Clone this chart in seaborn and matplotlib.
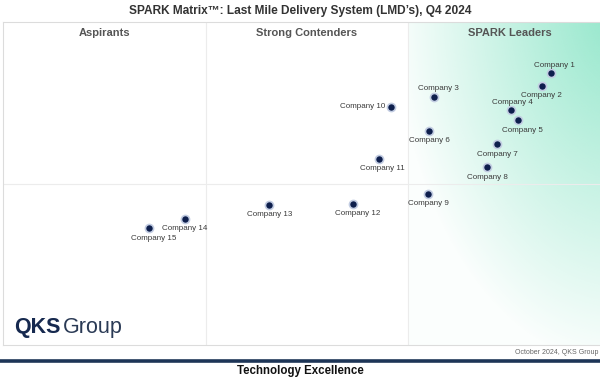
import numpy as np
import pandas as pd
import matplotlib
matplotlib.use("Agg")
import matplotlib.pyplot as plt
import seaborn as sns
from matplotlib.lines import Line2D
from matplotlib.colors import to_rgb

# scores (0-100 on both axes)
companies = [f"Company {i}" for i in range(1, 16)]
tech_excellence = [90.2, 88.6, 70.9, 83.6, 84.7, 70.1, 81.3, 79.6, 69.9,
                   63.8, 61.9, 57.5, 43.8, 29.9, 24.0]
customer_impact = [84.1, 80.3, 76.8, 72.8, 69.6, 66.3, 62.1, 55.0, 46.7,
                   73.8, 57.5, 43.6, 43.4, 39.1, 36.1]
quadrants = ["Aspirants", "Strong Contenders", "SPARK Leaders"]

df = pd.DataFrame({"company": companies, "x": tech_excellence, "y": customer_impact})

sns.set_style("white")
plt.rcParams["font.family"] = ["Liberation Sans", "DejaVu Sans"]

fig = plt.figure(figsize=(6, 3.8), dpi=100)
# plot area runs past the right edge of the picture (cropped matrix)
ax = fig.add_axes([3 / 600, 1 - 345 / 380, 608 / 600, 323 / 380])
ax.set_xlim(0, 100)
ax.set_ylim(0, 100)

# green gradient in the leaders quadrant, strongest at the top right
gx = np.linspace(100 / 3 * 2, 100, 200)
gy = np.linspace(0, 100, 200)
X, Y = np.meshgrid(gx, gy)
dx = (100 - X) * 6.08 + 10
dy = (100 - Y) * 3.23 + 22
d = np.sqrt((dx / 0.62) ** 2 + dy ** 2)
alpha = np.clip(0.99 - 0.0026 * d, 0.03, 0.9)
rgba = np.zeros((200, 200, 4))
rgba[..., :3] = to_rgb("#8fe6c9")
rgba[..., 3] = alpha
ax.imshow(rgba, extent=(100 / 3 * 2, 100, 0, 100), origin="lower",
          aspect="auto", zorder=0, interpolation="bilinear")

for v in (100 / 3, 200 / 3):
    ax.axvline(v, color="#ececec", lw=0.8, zorder=1)
ax.axhline(50, color="#ececec", lw=0.8, zorder=1)

for s in ax.spines.values():
    s.set_color("#dcdcdc")
    s.set_linewidth(0.8)
ax.set_xticks([])
ax.set_yticks([])

sns.scatterplot(data=df, x="x", y="y", ax=ax, s=34, color="#0e1f4d",
                edgecolor="#c3cde2", linewidth=1.2, zorder=3, legend=False)
ax.set_xlabel("")
ax.set_ylabel("")

# label placement (offset points); default is centred under the dot
offsets = {
    "Company 1": (2, 5.8, "center"),
    "Company 3": (3, 6.2, "center"),
    "Company 4": (0.5, 5.6, "center"),
    "Company 10": (-4.2, 0, "right"),
    "Company 5": (3, -7.6, "center"),
    "Company 11": (2, -6.8, "center"),
    "Company 12": (3.6, -6.7, "center"),
    "Company 15": (3.3, -7, "center"),
}
for name, x, y in zip(companies, tech_excellence, customer_impact):
    ox, oy, ha = offsets.get(name, (0, -7, "center"))
    ax.annotate(name, (x, y), xytext=(ox, oy), textcoords="offset points",
                ha=ha, va="center", fontsize=5.8, color="#3a3a3a", zorder=4)

for i, q in enumerate(quadrants):
    ax.text(100 / 6 + i * 100 / 3, 96.6, q, ha="center", va="center",
            fontsize=8, fontweight="bold", color="#555555")

fig.text(0.5, 1 - 11 / 380, "SPARK Matrix\u2122: Last Mile Delivery System (LMD\u2019s), Q4 2024",
         ha="center", va="center", fontsize=8.6, fontweight="bold", color="#333333")

fig.text(14 / 600, 1 - 333 / 380, "QKS", ha="left", va="baseline", fontsize=15.5,
         fontweight="bold", color="#16294f")
fig.text(63 / 600, 1 - 333 / 380, "Group", ha="left", va="baseline", fontsize=15.5,
         color="#2a3a55")

fig.text(598 / 600, 1 - 353 / 380, "October 2024, QKS Group", ha="right", va="center",
         fontsize=5, color="#666666")
fig.add_artist(Line2D([0, 1], [1 - 361 / 380] * 2, color="#1d3557", lw=2.6))
fig.text(0.5, 1 - 371 / 380, "Technology Excellence", ha="center", va="center",
         fontsize=8.3, fontweight="bold", color="#111111")

fig.savefig("out.png", dpi=100)
